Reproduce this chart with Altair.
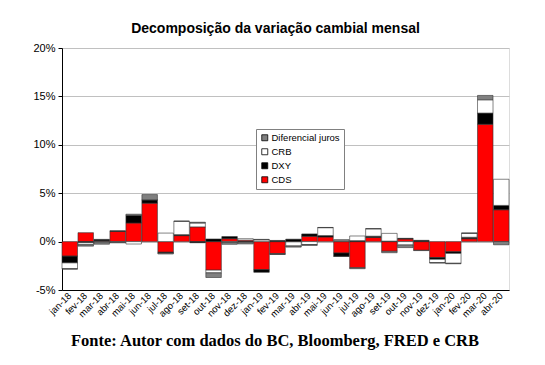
import altair as alt
import pandas as pd

months = ["jan-18","fev-18","mar-18","abr-18","mai-18","jun-18","jul-18","ago-18","set-18","out-18",
          "nov-18","dez-18","jan-19","fev-19","mar-19","abr-19","mai-19","jun-19","jul-19","ago-19",
          "set-19","out-19","nov-19","dez-19","jan-20","fev-20","mar-20","abr-20"]
cds = [-1.5, 0.92, 0.08, 1.05, 1.92, 3.97, -1.1, 0.62, 1.52, -2.95,
       0.3, 0.15, -2.9, -1.25, -0.03, 0.55, 0.48, -1.18, -2.7, 0.43,
       -1.0, 0.27, -0.9, -1.65, -1.05, 0.3, 12.12, 3.29]
dxy = [-0.7, -0.12, 0.15, 0.08, 0.78, 0.34, -0.08, 0.1, -0.12, 0.27,
       0.22, -0.06, -0.27, 0.12, 0.25, 0.24, 0.14, -0.34, 0.1, 0.13,
       0.05, 0.07, 0.1, -0.18, -0.17, 0.15, 1.16, 0.45]
crb = [-0.6, -0.2, -0.05, -0.05, -0.25, 0.0, 0.88, 1.38, 0.4, -0.28,
       -0.08, 0.15, 0.18, -0.03, -0.42, -0.3, 0.82, -0.02, 0.48, 0.76,
       0.8, -0.35, -0.03, -0.35, -1.02, 0.4, 1.37, 2.7]
dif = [-0.05, -0.15, -0.22, -0.08, 0.13, 0.55, -0.1, 0.02, 0.08, -0.48,
       -0.2, -0.18, 0.05, -0.05, -0.12, -0.1, 0.02, 0.2, -0.1, 0.02,
       -0.15, -0.27, 0.03, -0.03, -0.05, 0.05, 0.45, -0.33]

series_names = ["Diferencial juros", "CRB", "DXY", "CDS"]
series_colors = ["#808080", "#ffffff", "#000000", "#ff0000"]
stack_order = {"CDS": 0, "DXY": 1, "CRB": 2, "Diferencial juros": 3}

title_text = "Decomposição da variação cambial mensal"
caption_text = "Fonte: Autor com dados do BC, Bloomberg, FRED e CRB"

rows = []
for name, vals in [("CDS", cds), ("DXY", dxy), ("CRB", crb), ("Diferencial juros", dif)]:
    for m, v in zip(months, vals):
        rows.append({"mes": m, "serie": name, "valor": v, "ord": stack_order[name]})
df = pd.DataFrame(rows)

W, H = 447, 242

bars = alt.Chart(df).mark_bar(stroke="#333333", strokeWidth=0.6).encode(
    x=alt.X("mes:N", sort=months, title=None,
            scale=alt.Scale(paddingInner=0.03, paddingOuter=0.0),
            axis=alt.Axis(labelAngle=-45, labelAlign="right", labelBaseline="middle",
                          labelFontSize=9.5, labelFont="Liberation Sans", labelColor="#000000",
                          domainColor="#000000", ticks=False, labelPadding=4)),
    y=alt.Y("valor:Q", stack="zero", title=None,
            scale=alt.Scale(domain=[-5, 20], nice=False),
            axis=alt.Axis(values=[-5, 0, 5, 10, 15, 20], labelExpr="datum.value + '%'",
                          labelFontSize=11, labelFont="Liberation Sans", labelColor="#000000",
                          domainColor="#000000", tickColor="#000000", tickSize=4,
                          gridColor="#c0c0c0", gridWidth=1, labelPadding=3)),
    color=alt.Color("serie:N", scale=alt.Scale(domain=series_names, range=series_colors),
                    legend=alt.Legend(title=None, orient="none", legendX=194, legendY=81,
                                      symbolType="square", symbolSize=36,
                                      symbolStrokeColor="#000000", symbolStrokeWidth=0.8,
                                      labelFontSize=9.5, labelFont="Liberation Sans",
                                      labelColor="#000000", rowPadding=3,
                                      strokeColor="#808080", fillColor="#ffffff",
                                      padding=4, labelOffset=2)),
    order=alt.Order("ord:Q", sort="ascending"),
)

caption = alt.Chart(pd.DataFrame({"t": [caption_text]})).mark_text(
    font="Liberation Serif", fontSize=16.5, fontWeight="bold", color="#000000",
    align="center", baseline="middle"
).encode(text="t:N", x=alt.value(213), y=alt.value(293))

chart = alt.layer(bars, caption).properties(
    width=W, height=H,
    title=alt.TitleParams(title_text, font="Liberation Sans", fontSize=14, fontWeight="bold",
                          color="#000000", anchor="middle", dx=-10, offset=6),
    autosize=alt.AutoSizeParams(type="none"),
    padding={"left": 54, "top": 40, "right": 20, "bottom": 60},
).configure_view(stroke="#808080").configure(background="#ffffff")

chart.save("out.html", embed_options={"renderer": "svg", "actions": False})
